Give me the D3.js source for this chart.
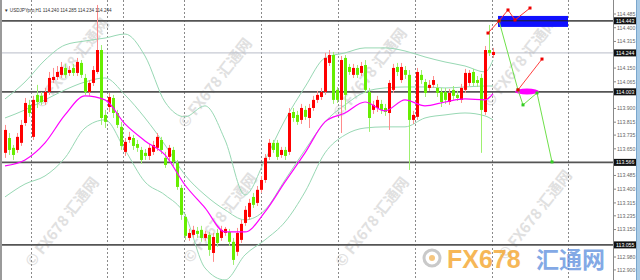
<!DOCTYPE html>
<html>
<head>
  <meta charset="utf-8">
  <script src="https://cdn.jsdelivr.net/npm/d3@7"></script>
  <style>
    body { margin: 0; background: #fff; }
    svg { display: block; font-family: "Liberation Sans", Arial, sans-serif; }
  </style>
</head>
<body>
  <svg id="chart" width="640" height="280"></svg>
  <script>
    // USDJPYpro H1 candles
    const opens = [113.625, 113.717, 113.656, 113.643, 113.687, 113.810, 113.922, 113.724, 113.984, 113.978,
      113.940, 114.002, 114.076, 114.095, 114.108, 114.151, 114.120, 114.151, 114.120, 114.182,
      114.089, 114.002, 114.058, 114.126, 114.262, 113.860, 113.909, 113.965, 113.872, 113.786,
      113.631, 113.705, 113.717, 113.680, 113.643, 113.625, 113.606, 113.631, 113.656, 113.705,
      113.594, 113.600, 113.643, 113.563, 113.408, 113.228, 113.098, 113.117, 113.142, 113.148,
      113.098, 113.117, 113.005, 113.129, 113.098, 113.129, 113.135, 113.074, 113.012, 113.086,
      113.191, 113.228, 113.352, 113.315, 113.396, 113.457, 113.600, 113.687, 113.687, 113.612,
      113.643, 113.631, 113.878, 113.860, 113.829, 113.891, 113.841, 113.903, 113.953, 113.971,
      114.002, 114.182, 114.231, 114.015, 113.953, 114.213, 114.157, 114.108, 114.151, 114.120,
      114.169, 114.002, 113.891, 113.903, 113.928, 113.903, 113.872, 114.015, 114.157, 114.076,
      114.138, 114.108, 113.829, 113.848, 114.108, 114.064, 114.027, 114.046, 114.027, 114.002,
      114.002, 113.940, 114.015, 113.984, 113.953, 114.015, 114.058, 114.126, 114.076, 114.089,
      113.878, 114.262, 114.231];
    const highs = [113.798, 113.748, 113.674, 113.748, 113.829, 113.965, 113.953, 113.978, 114.046, 114.002,
      114.027, 114.126, 114.151, 114.163, 114.188, 114.176, 114.163, 114.176, 114.213, 114.200,
      114.114, 114.076, 114.163, 114.541, 114.293, 113.891, 113.996, 113.984, 113.891, 113.817,
      113.717, 113.755, 113.736, 113.705, 113.662, 113.649, 113.680, 113.699, 113.748, 113.724,
      113.631, 113.674, 113.662, 113.581, 113.426, 113.247, 113.154, 113.173, 113.166, 113.173,
      113.142, 113.135, 113.129, 113.154, 113.173, 113.166, 113.154, 113.098, 113.160, 113.210,
      113.296, 113.340, 113.377, 113.420, 113.482, 113.618, 113.711, 113.705, 113.705, 113.662,
      113.662, 113.903, 113.903, 113.885, 113.928, 113.916, 113.928, 113.978, 114.009, 114.027,
      114.244, 114.262, 114.250, 114.033, 114.225, 114.231, 114.176, 114.176, 114.169, 114.188,
      114.200, 114.027, 113.947, 113.978, 113.953, 113.928, 114.076, 114.176, 114.182, 114.182,
      114.163, 114.138, 113.885, 114.151, 114.138, 114.083, 114.076, 114.101, 114.052, 114.027,
      114.027, 114.021, 114.039, 114.009, 114.052, 114.145, 114.138, 114.145, 114.101, 114.114,
      114.287, 114.417, 114.275];
    const lows = [113.594, 113.612, 113.581, 113.625, 113.668, 113.792, 113.848, 113.705, 113.903, 113.922,
      113.922, 113.984, 114.058, 114.076, 114.089, 114.089, 114.101, 114.101, 114.101, 114.089,
      113.984, 113.978, 114.039, 114.114, 113.798, 113.779, 113.878, 113.841, 113.779, 113.643,
      113.606, 113.687, 113.643, 113.631, 113.557, 113.581, 113.581, 113.612, 113.637, 113.618,
      113.532, 113.581, 113.544, 113.396, 113.210, 113.086, 113.080, 113.098, 113.098, 113.074,
      113.080, 112.987, 112.950, 113.043, 113.080, 113.111, 113.049, 112.931, 112.987, 113.067,
      113.173, 113.210, 113.284, 113.296, 113.377, 113.439, 113.581, 113.625, 113.581, 113.594,
      113.581, 113.612, 113.817, 113.798, 113.804, 113.829, 113.779, 113.885, 113.934, 113.953,
      113.984, 114.163, 113.928, 113.934, 113.748, 113.891, 114.108, 114.089, 114.089, 114.101,
      113.996, 113.755, 113.866, 113.878, 113.866, 113.854, 113.767, 113.996, 114.101, 114.058,
      114.083, 113.519, 113.804, 113.829, 114.052, 113.971, 114.009, 114.027, 113.971, 113.909,
      113.928, 113.922, 113.953, 113.947, 113.934, 113.996, 114.039, 114.039, 114.033, 113.625,
      113.860, 114.225, 114.213];
    const closes = [113.767, 113.643, 113.612, 113.724, 113.798, 113.934, 113.872, 113.953, 113.940, 113.940,
      114.002, 114.089, 114.095, 114.126, 114.157, 114.108, 114.138, 114.120, 114.188, 114.108,
      114.002, 114.058, 114.138, 114.262, 113.841, 113.817, 113.971, 113.872, 113.798, 113.668,
      113.693, 113.724, 113.668, 113.656, 113.581, 113.606, 113.656, 113.674, 113.724, 113.643,
      113.550, 113.656, 113.569, 113.414, 113.241, 113.111, 113.129, 113.148, 113.123, 113.098,
      113.123, 113.024, 113.104, 113.067, 113.148, 113.154, 113.074, 112.962, 113.129, 113.185,
      113.272, 113.315, 113.303, 113.396, 113.457, 113.594, 113.687, 113.643, 113.600, 113.643,
      113.606, 113.872, 113.841, 113.817, 113.903, 113.848, 113.903, 113.953, 113.984, 114.002,
      114.213, 114.231, 113.953, 113.953, 114.200, 113.984, 114.126, 114.151, 114.108, 114.163,
      114.015, 113.841, 113.922, 113.953, 113.891, 113.878, 114.058, 114.151, 114.126, 114.157,
      114.108, 113.829, 113.860, 114.126, 114.076, 113.996, 114.046, 114.076, 113.996, 113.940,
      113.953, 113.996, 113.978, 113.965, 114.027, 114.120, 114.120, 114.058, 114.058, 113.891,
      114.262, 114.244, 114.250];

    // Bollinger bands and moving average, sampled every 5 bars
    const bandIdx = [0, 5, 10, 15, 20, 25, 30, 35, 40, 45, 50, 55, 60, 65, 70, 75, 80, 85, 90, 95, 100, 105, 110, 115, 120, 122];
    const bandUpper = [113.959, 114.064, 114.200, 114.293, 114.318, 114.336, 114.361, 114.225, 113.940, 113.848,
      113.916, 113.705, 113.364, 113.581, 113.829, 114.033, 114.213, 114.244, 114.275, 114.275,
      114.256, 114.219, 114.188, 114.163, 114.126, 114.200];
    const bandMiddle = [113.841, 113.891, 113.953, 114.015, 114.064, 114.089, 113.984, 113.841, 113.674, 113.488,
      113.364, 113.272, 113.210, 113.272, 113.457, 113.643, 113.817, 113.922, 114.002, 114.027,
      114.033, 114.033, 114.027, 114.033, 114.039, 114.039];
    const bandLower = [113.352, 113.432, 113.482, 113.594, 113.779, 113.829, 113.643, 113.445, 113.364, 113.241,
      112.912, 112.838, 112.993, 113.086, 113.197, 113.383, 113.625, 113.736, 113.779, 113.786,
      113.786, 113.841, 113.860, 113.872, 113.854, 113.829];
    const maLine = [113.544, 113.581, 113.687, 113.860, 113.978, 113.953, 113.804, 113.699, 113.612, 113.426,
      113.284, 113.135, 113.135, 113.259, 113.445, 113.625, 113.817, 113.872, 113.940, 113.885,
      113.953, 113.916, 113.940, 113.959, 113.953, 113.990];

    // horizontal levels, day separators, price axis labels
    const levels = [114.443, 114.244, 114.003, 113.566, 113.055];
    const levelStyle = ['dark', 'light', 'dark', 'dark', 'dark'];
    const daySeps = [6.5, 25.5, 29.5, 44.75, 64, 83.25, 102.5, 121.75, 140.75];
    const priceTicks = ['114.485', '114.400', '114.315', '114.150', '114.065', '113.900',
      '113.815', '113.735', '113.650', '113.485', '113.400', '113.315', '113.235', '113.150',
      '112.980', '112.900'];

    // forecast drawings (bar index, price)
    const redPath = [[120.75, 114.367], [123.5, 114.442], [125.75, 114.510], [127.5, 114.448], [131.25, 114.522]];
    const redPath2 = [[128.25, 114.015], [134.25, 114.206]];
    const greenPath = [[123.5, 114.442], [128.25, 114.015], [129.5, 113.922], [133, 113.996], [136.75, 113.569]];
    const blueZone = [123.25, 140.75, 114.473, 114.405];
    const pinkZone = [130.5, 114.005];

    const header = 'USDJPYpro,H1  114.240 114.285 114.234 114.244';
    const watermarks = [[72, 63], [215, 83], [370, 73], [520, 62], [62, 222], [220, 218], [372, 222], [535, 215]];

    const svg = d3.select('#chart');
    const width = +svg.attr('width');
    const height = +svg.attr('height');
    const plotRight = 613;

    const xScale = d3.scaleLinear().domain([0, 122]).range([5, 493]);
    const yScale = d3.scaleLinear().domain([112.980, 114.485]).range([257, 14]);

    svg.append('rect').attr('width', width).attr('height', height).attr('fill', '#fff');

    svg.append('defs').append('clipPath').attr('id', 'plotclip')
      .append('rect').attr('x', 2).attr('y', 0).attr('width', plotRight - 2).attr('height', height);

    // watermarks behind everything
    const wm = svg.append('g').attr('id', 'watermarks');
    wm.selectAll('text').data(watermarks).join('text')
      .attr('transform', d => `translate(${d[0]},${d[1]}) rotate(-52)`)
      .attr('text-anchor', 'middle')
      .attr('dy', '0.35em')
      .attr('font-family', '"Noto Sans CJK SC", "Liberation Sans", sans-serif')
      .attr('font-size', 15)
      .attr('font-weight', 'bold')
      .attr('fill', '#c8c8c8')
      .attr('opacity', 0.55)
      .text('© FX678 汇通网');

    const g = svg.append('g').attr('clip-path', 'url(#plotclip)');

    // day separators
    g.selectAll('.sep').data(daySeps).join('line')
      .attr('class', 'sep')
      .attr('x1', d => Math.round(xScale(d)) + 0.5)
      .attr('x2', d => Math.round(xScale(d)) + 0.5)
      .attr('y1', 0).attr('y2', height)
      .attr('stroke', '#8a8a8a')
      .attr('stroke-dasharray', '2,2');

    // horizontal levels
    g.selectAll('.lvl').data(levels).join('line')
      .attr('class', 'lvl')
      .attr('x1', 2).attr('x2', plotRight)
      .attr('y1', d => yScale(d)).attr('y2', d => yScale(d))
      .attr('stroke', (d, i) => levelStyle[i] === 'dark' ? '#555' : '#b8bcc8')
      .attr('stroke-width', (d, i) => levelStyle[i] === 'dark' ? 1.8 : 1);

    // bands + ma
    const lineGen = d3.line()
      .x((d, i) => xScale(bandIdx[i]))
      .y(d => yScale(d))
      .curve(d3.curveMonotoneX);
    [bandUpper, bandMiddle, bandLower].forEach(b => {
      g.append('path').datum(b)
        .attr('d', lineGen)
        .attr('fill', 'none')
        .attr('stroke', '#98d8b4')
        .attr('stroke-width', 1);
    });

    // candles
    const idx = d3.range(opens.length);
    const isUp = i => closes[i] >= opens[i];
    const cg = g.append('g').attr('id', 'candles');
    cg.selectAll('.wick').data(idx).join('line')
      .attr('class', 'wick')
      .attr('x1', i => Math.round(xScale(i)) + 0.5)
      .attr('x2', i => Math.round(xScale(i)) + 0.5)
      .attr('y1', i => yScale(highs[i]))
      .attr('y2', i => yScale(lows[i]))
      .attr('stroke', i => isUp(i) ? '#ff8c8c' : '#9ef070');
    cg.selectAll('.body').data(idx).join('rect')
      .attr('class', 'body')
      .attr('x', i => Math.round(xScale(i)) - 1)
      .attr('width', 3)
      .attr('y', i => yScale(Math.max(opens[i], closes[i])))
      .attr('height', i => Math.max(1, Math.abs(yScale(opens[i]) - yScale(closes[i]))))
      .attr('fill', i => isUp(i) ? '#ff0000' : '#66ee00');

    g.append('path').datum(maLine)
      .attr('d', lineGen)
      .attr('fill', 'none')
      .attr('stroke', '#ff00ff')
      .attr('stroke-width', 1.2);

    // forecast drawings
    const ptLine = d3.line().x(d => xScale(d[0])).y(d => yScale(d[1]));
    g.append('rect')
      .attr('x', xScale(blueZone[0])).attr('y', yScale(blueZone[2]))
      .attr('width', xScale(blueZone[1]) - xScale(blueZone[0]))
      .attr('height', yScale(blueZone[3]) - yScale(blueZone[2]))
      .attr('fill', '#1010ff');
    g.append('line')
      .attr('x1', xScale(blueZone[0])).attr('x2', xScale(blueZone[1]))
      .attr('y1', yScale(levels[0])).attr('y2', yScale(levels[0]))
      .attr('stroke', '#222').attr('stroke-width', 1);

    g.append('ellipse')
      .attr('cx', xScale(pinkZone[0])).attr('cy', yScale(pinkZone[1]))
      .attr('rx', xScale(pinkZone[0] + 3) - xScale(pinkZone[0]))
      .attr('ry', 3)
      .attr('fill', '#ff00ff');

    [[greenPath, '#6fe04a'], [redPath, '#ff3030'], [redPath2, '#ff4040']].forEach(([p, c]) => {
      g.append('path').datum(p).attr('d', ptLine)
        .attr('fill', 'none').attr('stroke', c).attr('stroke-width', 1);
      g.selectAll(null).data(p).join('rect')
        .attr('x', d => xScale(d[0]) - 1.5).attr('y', d => yScale(d[1]) - 1.5)
        .attr('width', 3).attr('height', 3)
        .attr('fill', c === '#6fe04a' ? '#33cc22' : '#ee0000');
    });

    // right price axis
    svg.append('rect').attr('x', plotRight).attr('y', 0).attr('width', width - plotRight).attr('height', height).attr('fill', '#fff');
    svg.append('line').attr('x1', plotRight + 0.5).attr('x2', plotRight + 0.5).attr('y1', 0).attr('y2', height)
      .attr('stroke', '#888');
    const ax = svg.append('g');
    priceTicks.forEach(t => {
      const y = yScale(+t);
      ax.append('line').attr('x1', plotRight).attr('x2', plotRight + 3).attr('y1', y).attr('y2', y).attr('stroke', '#888');
      ax.append('text').attr('x', plotRight + 4).attr('y', y).attr('dy', '0.35em')
        .attr('font-size', 5.2).attr('fill', '#666').text(t);
    });
    levels.forEach(l => {
      const y = yScale(l);
      ax.append('rect').attr('x', plotRight + 1).attr('y', y - 3.5).attr('width', 22).attr('height', 7).attr('fill', '#111');
      ax.append('text').attr('x', plotRight + 3).attr('y', y).attr('dy', '0.35em')
        .attr('font-size', 5.2).attr('fill', '#fff').text(l.toFixed(3));
    });
    svg.append('rect').attr('x', 636).attr('y', 0).attr('width', 4).attr('height', height).attr('fill', '#a9cbe6');
    svg.append('rect').attr('x', 636).attr('y', 0).attr('width', 1).attr('height', height).attr('fill', '#7aa6cc');

    // left border + header
    svg.append('rect').attr('x', 0).attr('y', 0).attr('width', 2).attr('height', height).attr('fill', '#9a9a9a');
    svg.append('text').attr('x', 4).attr('y', 12).attr('font-size', 4.6).attr('fill', '#333')
      .text('▼ ' + header);

    // bottom right logo
    const logo = svg.append('g');
    logo.append('circle').attr('cx', 432).attr('cy', 258).attr('r', 8)
      .attr('fill', 'none').attr('stroke', '#c9c9c9').attr('stroke-width', 3);
    logo.append('circle').attr('cx', 432).attr('cy', 258).attr('r', 3).attr('fill', '#f2b860').attr('opacity', 0.8);
    logo.append('text').attr('x', 447).attr('y', 268)
      .attr('font-family', '"Liberation Sans", Arial, sans-serif')
      .attr('font-size', 25).attr('font-weight', 'bold')
      .attr('fill', '#f4a62e').attr('opacity', 0.8).text('FX678');
    logo.append('text').attr('x', 536).attr('y', 268)
      .attr('font-family', '"Noto Sans CJK SC", sans-serif')
      .attr('font-size', 23).attr('font-weight', 'bold')
      .attr('fill', '#5a8ddd').attr('opacity', 0.75).text('汇通网');
  </script>
</body>
</html>
